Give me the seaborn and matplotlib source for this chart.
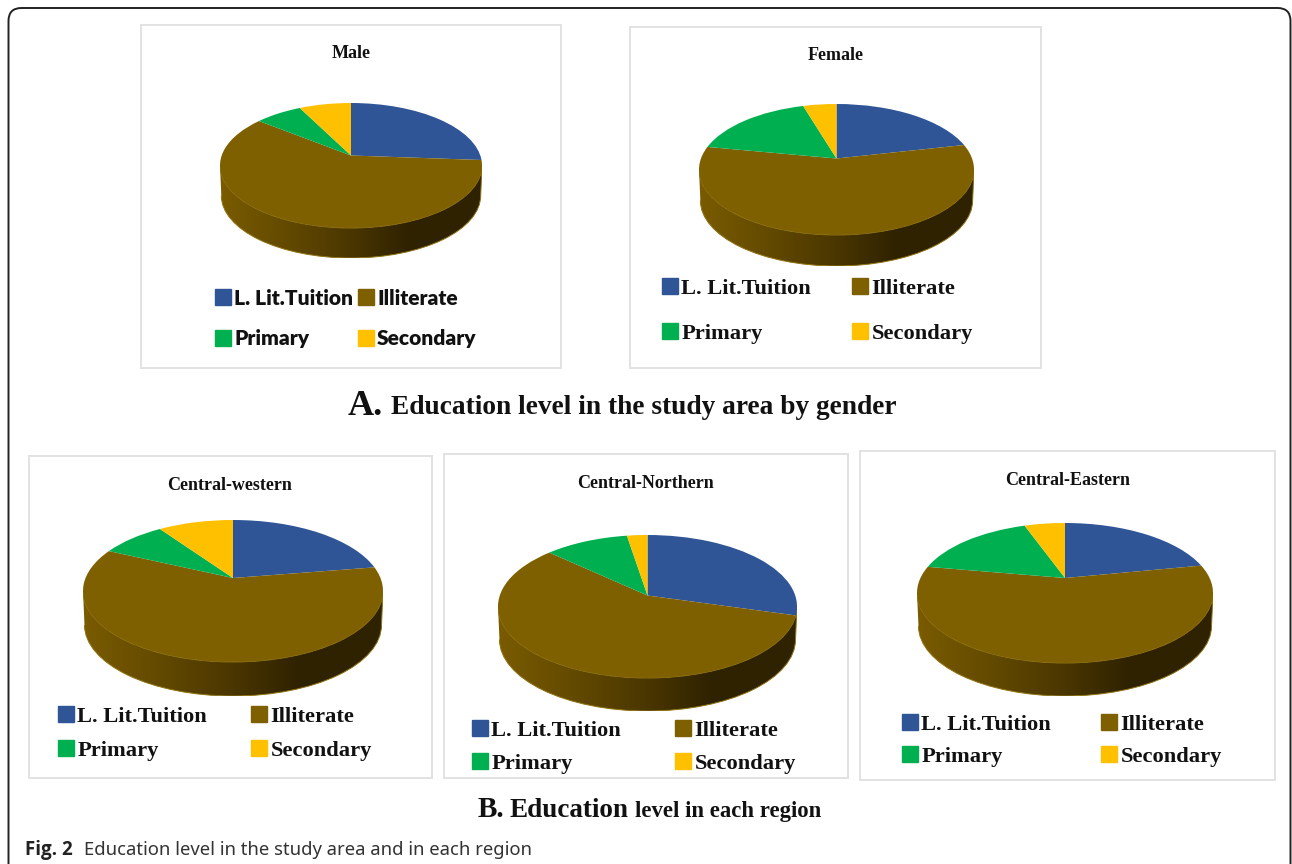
import numpy as np
import matplotlib
matplotlib.use('Agg')
import matplotlib.pyplot as plt
import seaborn as sns
from matplotlib.colors import LinearSegmentedColormap
from matplotlib.patches import FancyBboxPatch, Patch, PathPatch
from matplotlib.path import Path

# Datos (porcentaje de cada sector)
categories = ['L. Lit.Tuition', 'Illiterate', 'Primary', 'Secondary']
male_values = [23.6, 64.0, 6.0, 6.4]
female_values = [18.9, 61.7, 15.5, 3.9]
western_values = [19.6, 64.9, 7.4, 8.1]
northern_values = [27.0, 61.6, 9.2, 2.2]
eastern_values = [18.6, 62.5, 14.5, 4.4]
colors = ['#2f5597', '#7f6000', '#00b050', '#ffc000']

W, H = 1292, 864
sans_font = 'Lato'
serif_font = 'Liberation Serif'

sns.set_theme(style='white')
fig = plt.figure(figsize=(W / 100, H / 100), dpi=100)
palette = sns.color_palette(colors)
side_cmap = LinearSegmentedColormap.from_list(
    'side', [(0, '#7a5b00'), (0.25, '#634a00'), (0.5, '#4a3600'), (0.72, '#2f2200'), (1, '#2f2200')])


def box_axes(x0, y0, x1, y1):
    # caja en pixeles de la imagen (y hacia abajo)
    return fig.add_axes([x0 / W, 1 - y1 / H, (x1 - x0) / W, (y1 - y0) / H])


def px_text(x, y, s, **kw):
    fig.text(x / W, 1 - y / H, s, va='baseline', **kw)


def draw_panel(title, values, box, title_xy, ellipse, depth, apex_dy, legend_pos, font, font_px, weight='bold'):
    ax = box_axes(*box)
    ax.set_xticks([])
    ax.set_yticks([])
    for s in ax.spines.values():
        s.set_color('#e2e2e2')
        s.set_linewidth(1.4)

    fig.text(title_xy[0] / W, 1 - title_xy[1] / H, title, ha='center', va='center',
             family=serif_font, weight='bold', fontsize=13, color='#111111')

    # pastel aplastado: los ejes no guardan la proporcion
    x0, x1, y0, y1 = ellipse
    ry = (y1 - y0) / 2
    d = depth / ry
    pie_ax = box_axes(x0, y0, x1, y1 + depth)
    wedges, _ = pie_ax.pie(values, colors=palette, startangle=90, counterclock=False, radius=1,
                           wedgeprops={'linewidth': 0, 'edgecolor': 'none'})
    for w in wedges:
        v = w.get_path().vertices
        v[np.hypot(v[:, 0], v[:, 1]) < 1e-9, 1] += apex_dy / ry
        w.set_zorder(3)

    # lateral con degradado
    arc = Path.arc(180, 360)
    low = arc.vertices * [0.99, 1] + [0, -d]
    side_path = Path(np.concatenate([low, arc.vertices[::-1]]),
                     list(arc.codes) + [Path.LINETO] + list(arc.codes[1:]))
    side = PathPatch(side_path, facecolor='none', edgecolor='#8f7312', linewidth=0.7, zorder=2)
    pie_ax.add_patch(side)
    im = pie_ax.imshow(np.linspace(0, 1, 256)[None, :], cmap=side_cmap, extent=(-1, 1, -1 - d, 0),
                       aspect='auto', zorder=1)
    im.set_clip_path(side)
    pie_ax.set_aspect('auto')
    pie_ax.set_xlim(-1, 1)
    pie_ax.set_ylim(-1 - d, 1)
    pie_ax.axis('off')
    pie_ax.patch.set_alpha(0)

    # leyenda en dos columnas
    xa, xb, ya, yb = legend_pos
    for x, idx in [(xa, (0, 2)), (xb, (1, 3))]:
        fig.legend([Patch(color=palette[i]) for i in idx], [categories[i] for i in idx],
                   loc='center left', bbox_to_anchor=(x / W, 1 - ((ya + yb) / 2 + 2) / H),
                   frameon=False, borderpad=0, borderaxespad=0,
                   handlelength=16 / font_px, handleheight=16 / font_px, handletextpad=0.15,
                   labelspacing=(yb - ya - font_px * 0.91) / font_px,
                   prop={'family': font, 'weight': weight, 'size': font_px * 0.72},
                   labelcolor='#111111')


# marco de la figura
bg = fig.add_axes([0, 0, 1, 1], zorder=-1)
bg.set_xlim(0, W)
bg.set_ylim(H, 0)
bg.axis('off')
bg.add_patch(FancyBboxPatch((8.5, 8), W - 10, H + 40, boxstyle='round,pad=0,rounding_size=13',
                            facecolor='white', edgecolor='#222222', linewidth=1.4))

draw_panel('Male', male_values, (141, 25, 561, 368), (351, 54), (220, 482, 103, 228), 30, 10,
           (215, 358, 296, 337), sans_font, 21, weight='heavy')
draw_panel('Female', female_values, (630, 27, 1041, 368), (836, 56), (699, 974, 104, 235), 31, 11,
           (662, 852, 287, 331), serif_font, 22.5)
draw_panel('Central-western', western_values, (29, 456, 432, 778), (230, 485), (83, 383, 520, 662), 34, 13,
           (58, 251, 715, 748), serif_font, 22.5)
draw_panel('Central-Northern', northern_values, (444, 454, 848, 778), (646, 483), (498, 797, 535, 678), 33, 11,
           (472, 675, 729, 761), serif_font, 22.5)
draw_panel('Central-Eastern', eastern_values, (860, 451, 1275, 780), (1068, 481), (917, 1213, 523, 663), 33, 15,
           (902, 1101, 723, 754), serif_font, 22.5)

# rotulos de seccion
px_text(348, 415, 'A.', family=serif_font, weight='bold', fontsize=26, color='#111111')
px_text(391, 414, 'Education level in the study area by gender', family=serif_font, weight='bold',
        fontsize=19.7, color='#111111')
px_text(478, 817, 'B.', family=serif_font, weight='bold', fontsize=21, color='#111111')
px_text(510, 817, 'Education', family=serif_font, weight='bold', fontsize=19.5, color='#111111')
px_text(635, 817, 'level in each region', family=serif_font, weight='bold', fontsize=16.4, color='#111111')

# pie de figura
px_text(25, 855, 'Fig. 2', family='Open Sans', weight='bold', fontsize=13.5, color='#222222')
px_text(84, 855, 'Education level in the study area and in each region', family='Noto Sans',
        fontsize=13.3, color='#333333')

fig.savefig('out.png', dpi=100)
plt.close(fig)
